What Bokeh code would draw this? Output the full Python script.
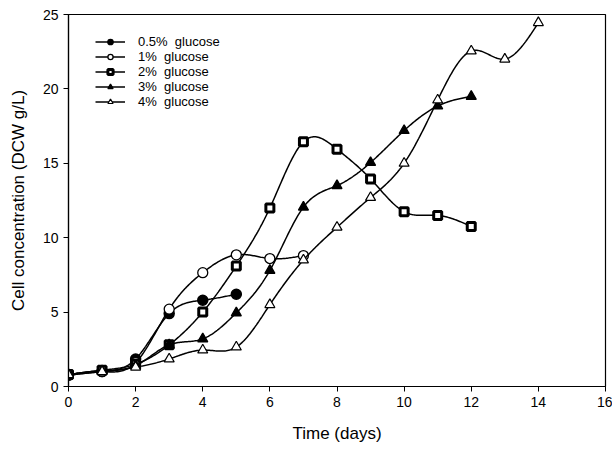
import numpy as np
from bokeh.plotting import figure
from bokeh.models import Legend, LegendItem, Range1d, FixedTicker
from bokeh.embed import file_html
from bokeh.resources import INLINE

# ---- data ----
days_05 = [0, 1, 2, 3, 4, 5]
g05 = [0.75, 1.0, 1.85, 4.9, 5.8, 6.2]
days_1 = [0, 1, 2, 3, 4, 5, 6, 7]
g1 = [0.8, 1.0, 1.6, 5.2, 7.65, 8.85, 8.6, 8.8]
days_2 = [0, 1, 2, 3, 4, 5, 6, 7, 8, 9, 10, 11, 12]
g2 = [0.8, 1.1, 1.5, 2.8, 5.0, 8.1, 12.0, 16.45, 15.95, 13.95, 11.75, 11.5, 10.75]
days_3 = [0, 1, 2, 3, 4, 5, 6, 7, 8, 9, 10, 11, 12]
g3 = [0.8, 1.05, 1.4, 2.8, 3.2, 4.95, 7.8, 12.05, 13.5, 15.05, 17.2, 18.85, 19.5]
days_4 = [0, 1, 2, 3, 4, 5, 6, 7, 8, 9, 10, 11, 12, 13, 14]
g4 = [0.8, 1.0, 1.3, 1.85, 2.45, 2.65, 5.5, 8.5, 10.7, 12.7, 15.0, 19.25, 22.55, 22.0, 24.45]
labels = ["0.5%  glucose", "1%  glucose", "2%  glucose", "3%  glucose", "4%  glucose"]
x_ticks = [0, 2, 4, 6, 8, 10, 12, 14, 16]
y_ticks = [0, 5, 10, 15, 20, 25]


def spline(x, y, n=30):
    """Natural cubic spline drawn through the data points (rendering only)."""
    x = np.asarray(x, float)
    y = np.asarray(y, float)
    m = len(x)
    h = np.diff(x)
    A = np.zeros((m, m))
    b = np.zeros(m)
    A[0, 0] = A[-1, -1] = 1
    for i in range(1, m - 1):
        A[i, i - 1] = h[i - 1]
        A[i, i] = 2 * (h[i - 1] + h[i])
        A[i, i + 1] = h[i]
        b[i] = 6 * ((y[i + 1] - y[i]) / h[i] - (y[i] - y[i - 1]) / h[i - 1])
    M = np.linalg.solve(A, b)
    xs, ys = [], []
    for i in range(m - 1):
        t = np.linspace(x[i], x[i + 1], n, endpoint=(i == m - 2))
        a = (x[i + 1] - t) / h[i]
        c = (t - x[i]) / h[i]
        s = (a * y[i] + c * y[i + 1]
             + ((a ** 3 - a) * M[i] + (c ** 3 - c) * M[i + 1]) * h[i] ** 2 / 6)
        xs.extend(t)
        ys.extend(s)
    return xs, ys


FONT = "Liberation Sans"

p = figure(width=612, height=448, output_backend="svg", toolbar_location=None,
           x_range=Range1d(0, 16), y_range=Range1d(0, 25),
           min_border_left=68, min_border_right=7, min_border_top=14, min_border_bottom=62)
p.grid.visible = False
p.outline_line_color = "black"
p.outline_line_width = 1.2
p.background_fill_color = "white"
p.border_fill_color = "white"

for ax in (p.xaxis[0], p.yaxis[0]):
    ax.axis_line_color = "black"
    ax.axis_line_width = 1.2
    ax.major_tick_in = 0
    ax.major_tick_out = 5
    ax.minor_tick_out = 0
    ax.minor_tick_in = 0
    ax.major_label_text_font = FONT
    ax.major_label_text_font_size = "14px"
    ax.major_label_text_color = "black"
    ax.axis_label_text_font = FONT
    ax.axis_label_text_font_size = "17px"
    ax.axis_label_text_font_style = "normal"
    ax.axis_label_text_color = "black"

p.xaxis.ticker = FixedTicker(ticks=x_ticks)
p.yaxis.ticker = FixedTicker(ticks=y_ticks)
p.xaxis.axis_label = "Time (days)"
p.yaxis.axis_label = "Cell concentration (DCW g/L)"
p.xaxis.axis_label_standoff = 14
p.yaxis.axis_label_standoff = 12

series = [
    (days_05, g05, "circle", "black", 1.5, 10),
    (days_1, g1, "circle", "white", 1.3, 10),
    (days_2, g2, "square", "white", 3.0, 8),
    (days_3, g3, "triangle", "black", 1.3, 10),
    (days_4, g4, "triangle", "white", 1.2, 10),
]

items = []
for (xd, yd, mk, fill, lw, sz), lab in zip(series, labels):
    sx, sy = spline(xd, yd)
    ln = p.line(sx, sy, line_color="black", line_width=1.5)
    sc = p.scatter(xd, yd, marker=mk, size=sz, fill_color=fill,
                   line_color="black", line_width=lw)
    items.append(LegendItem(label=lab, renderers=[ln, sc]))

legend = Legend(items=items, location=(22, 272))
legend.background_fill_alpha = 0
legend.border_line_alpha = 0
legend.label_text_font = FONT
legend.label_text_font_size = "13px"
legend.label_text_color = "black"
legend.glyph_width = 30
legend.glyph_height = 13
legend.label_height = 13
legend.spacing = 0
legend.padding = 5
legend.label_standoff = 13
p.add_layout(legend, "center")

open("out.html", "w").write(file_html(p, INLINE))
